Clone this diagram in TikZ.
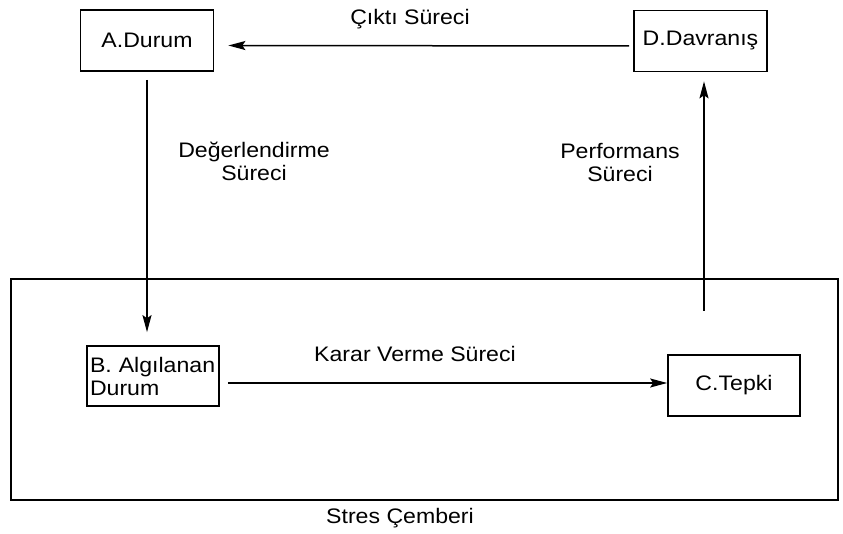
\documentclass[tikz,border=0pt]{standalone}
\usepackage{fontspec}
\setmainfont{Liberation Sans}[FakeStretch=1.1]
\usetikzlibrary{arrows.meta}
\begin{document}
\begin{tikzpicture}[x=1pt,y=-1pt,
  box/.style={draw,line width=1.7pt,minimum width=133pt,minimum height=61pt,inner sep=0pt,font=\fontsize{21}{23}\selectfont},
  lbl/.style={align=center,inner sep=0pt,font=\fontsize{21}{23}\selectfont},
  arr/.style={line width=1.5pt,-{Stealth[length=17pt,width=9pt,inset=3pt]}}]
\useasboundingbox (0,0) rectangle (843,534);
\draw[line width=1.7pt] (11,279) rectangle (838,500);
\node[box] (A) at (147,40.5) {A.Durum};
\node[box] (D) at (700.5,41) {D.Davranış};
\node[box,minimum width=132pt,minimum height=60pt,align=left,text width=126pt,inner xsep=3pt] (B) at (153,376) {B. Algılanan\\Durum};
\node[box,minimum width=132pt] (C) at (734,385.5) {C.Tepki};
\coordinate (pstart) at (704,311);
\draw[arr] ([xshift=-4pt,yshift=-5pt]D.west) -- ([xshift=14pt,yshift=-5pt]A.east);
\draw[arr] ([yshift=-8pt]A.south) -- ([yshift=13pt]A.south |- B.north);
\draw[arr] ([xshift=8pt,yshift=2.5pt]B.east |- C.west) -- ([yshift=2.5pt]C.west);
\draw[arr] (pstart) -- ([yshift=-9pt]pstart |- D.south);
\node[lbl] (l1) at (410,19) {Çıktı Süreci};
\node[lbl] (l2) at (254,161) {Değerlendirme\\Süreci};
\node[lbl] (l3) at (620,163) {Performans\\Süreci};
\node[lbl] (l4) at (415,354) {Karar Verme Süreci};
\node[lbl] (l5) at (400,518) {Stres Çemberi};
\end{tikzpicture}
\end{document}
